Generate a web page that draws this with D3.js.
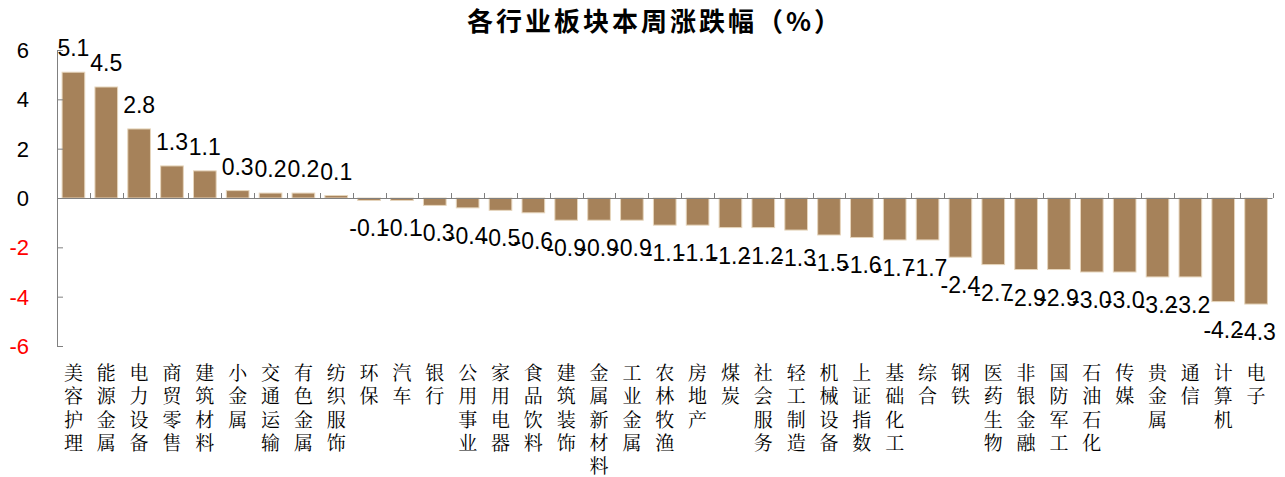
<!DOCTYPE html>
<html>
<head>
<meta charset="utf-8">
<script src="https://cdn.jsdelivr.net/npm/d3@7/dist/d3.min.js"></script>
<style>
  html, body { margin: 0; padding: 0; background: #fff; }
  svg { display: block; }
</style>
</head>
<body>
<svg id="chart" width="1285" height="477"></svg>
<script>
const title = "各行业板块本周涨跌幅（%）";
const categories = ["美容护理","能源金属","电力设备","商贸零售","建筑材料","小金属","交通运输","有色金属","纺织服饰","环保","汽车","银行","公用事业","家用电器","食品饮料","建筑装饰","金属新材料","工业金属","农林牧渔","房地产","煤炭","社会服务","轻工制造","机械设备","上证指数","基础化工","综合","钢铁","医药生物","非银金融","国防军工","石油石化","传媒","贵金属","通信","计算机","电子"];
const values = [5.1,4.5,2.8,1.3,1.1,0.3,0.2,0.2,0.1,-0.1,-0.1,-0.3,-0.4,-0.5,-0.6,-0.9,-0.9,-0.9,-1.1,-1.1,-1.2,-1.2,-1.3,-1.5,-1.6,-1.7,-1.7,-2.4,-2.7,-2.9,-2.9,-3.0,-3.0,-3.2,-3.2,-4.2,-4.3];
const yTicks = [-6,-4,-2,0,2,4,6];

const fmt = v => d3.format(".1f")(v).replace("\u2212", "-");
const fmtTick = v => d3.format("d")(v).replace("\u2212", "-");

const svg = d3.select("#chart");
const x = d3.scaleBand().domain(categories).range([57, 1272.5]).paddingInner(0.31).paddingOuter(0.155);
const xb = d3.scaleBand().domain(categories).range([57, 1272.5]);
const y = d3.scaleLinear().domain([-6, 6]).range([346, 50]);

// title
svg.append("text")
  .attr("x", 655).attr("y", 22).attr("dy", "0.36em")
  .attr("text-anchor", "middle")
  .attr("font-family", "'Noto Sans CJK SC', sans-serif")
  .attr("font-weight", "bold")
  .attr("font-size", 26)
  .attr("letter-spacing", 3)
  .attr("fill", "#000")
  .text(title);

// bars
svg.append("g").selectAll("rect").data(values).join("rect")
  .attr("x", (d, i) => x(categories[i]))
  .attr("width", x.bandwidth())
  .attr("y", d => y(Math.max(0, d)))
  .attr("height", d => Math.abs(y(d) - y(0)))
  .attr("fill", "#A6825A")
  .attr("stroke", "#E6D5BC")
  .attr("stroke-width", 1);

// y axis
const yAxis = d3.axisRight(y).tickValues(yTicks).tickSize(6).tickFormat("");
const gy = svg.append("g").attr("transform", "translate(57,0)").call(yAxis);
gy.select(".domain").attr("stroke", "#808080").attr("d", `M0.5,${y(6)}V${y(-6)}`);
gy.selectAll(".tick line").attr("stroke", "#808080");
svg.append("g").selectAll("text").data(yTicks).join("text")
  .attr("x", 29).attr("y", d => y(d)).attr("dy", "0.36em")
  .attr("text-anchor", "end")
  .attr("font-family", "'Liberation Sans', Arial, sans-serif")
  .attr("font-size", 22)
  .attr("fill", d => d < 0 ? "#FF0000" : "#000")
  .text(fmtTick);

// x axis line with ticks at band boundaries (pointing up)
const boundaries = categories.map(c => xb(c)).concat([xb.range()[1]]);
const gx = svg.append("g");
gx.append("line")
  .attr("x1", 57).attr("x2", 1272.5)
  .attr("y1", y(0) + 0.5).attr("y2", y(0) + 0.5)
  .attr("stroke", "#808080");
gx.selectAll("line.t").data(boundaries).join("line").attr("class", "t")
  .attr("x1", d => Math.round(d) + 0.5).attr("x2", d => Math.round(d) + 0.5)
  .attr("y1", y(0) - 5).attr("y2", y(0))
  .attr("stroke", "#808080");

// value labels
svg.append("g").selectAll("text").data(values).join("text")
  .attr("x", (d, i) => xb(categories[i]) + xb.bandwidth() / 2)
  .attr("y", d => d >= 0 ? y(d) - 16 : y(d) + 36)
  .attr("text-anchor", "middle")
  .attr("font-family", "'Liberation Sans', Arial, sans-serif")
  .attr("font-size", 23)
  .attr("fill", "#000")
  .text(fmt);

// category labels (vertical stacked characters)
const gl = svg.append("g");
categories.forEach((c, i) => {
  const cx = xb(c) + xb.bandwidth() / 2;
  Array.from(c).forEach((ch, k) => {
    gl.append("text")
      .attr("x", cx).attr("y", 373 + k * 23.4).attr("dy", "0.36em")
      .attr("text-anchor", "middle")
      .attr("font-family", "'Noto Serif CJK SC', 'Noto Sans CJK SC', sans-serif")
      .attr("font-size", 19)
      .attr("fill", "#000")
      .text(ch);
  });
});
</script>
</body>
</html>
